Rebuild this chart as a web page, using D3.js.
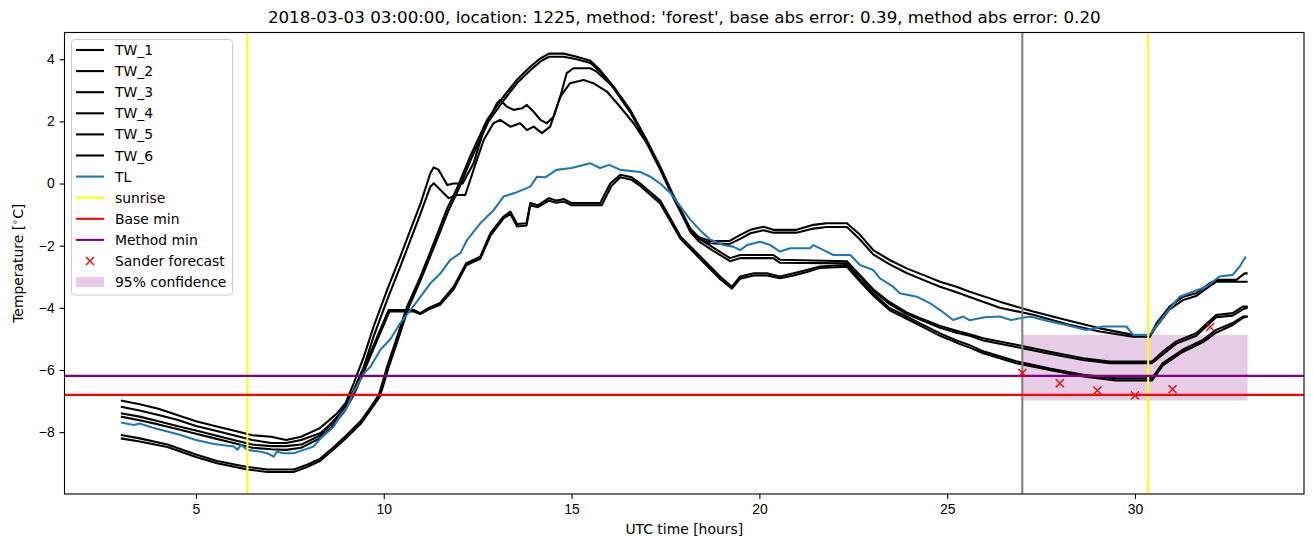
<!DOCTYPE html>
<html>
<head>
<meta charset="utf-8">
<script src="https://cdn.jsdelivr.net/npm/d3@7"></script>
<style>
  body { margin: 0; background: #fff; }
  svg { font-family: "DejaVu Sans", sans-serif; }
  .tick text { font-size: 13.9px; fill: #000; }
  .tick line { stroke: #000; stroke-width: 1.1; }
  .domain { display: none; }
</style>
</head>
<body>
<svg id="chart" width="1313" height="547"></svg>
<script>
// series: [hour, temperature]
var tw1 = [[3.0,-6.98],[3.5,-7.1],[4.0,-7.25],[4.5,-7.45],[5.0,-7.65],[5.5,-7.8],[6.0,-7.95],[6.5,-8.1],[7.0,-8.15],[7.4,-8.25],[7.8,-8.15],[8.3,-7.87],[8.76,-7.39],[8.98,-7.07],[9.2,-6.43],[9.47,-5.57],[9.73,-4.6],[10.09,-3.42],[10.44,-2.35],[10.71,-1.49],[10.98,-0.64],[11.24,0.33],[11.33,0.52],[11.46,0.44],[11.69,-0.05],[11.86,0.0],[12.1,0.0],[12.39,0.65],[12.66,1.72],[12.84,2.15],[13.01,2.58],[13.1,2.69],[13.28,2.47],[13.46,2.37],[13.68,2.42],[13.81,2.53],[13.99,2.31],[14.17,2.05],[14.34,1.94],[14.52,2.15],[14.7,2.8],[14.87,3.55],[15.05,3.71],[15.5,3.71],[15.67,3.6],[16.12,3.1],[16.56,2.35],[17.0,1.35],[17.36,0.5],[17.71,-0.42],[17.98,-1.06],[18.16,-1.49],[18.38,-1.76],[18.69,-2.0],[19.22,-2.4],[19.49,-2.3],[20.37,-2.3],[20.55,-2.45],[22.33,-2.5],[22.68,-2.95],[23.03,-3.4],[23.47,-3.82],[23.92,-4.15],[24.36,-4.37],[24.81,-4.58],[25.25,-4.74],[25.6,-4.85],[25.96,-4.98],[26.84,-5.19],[27.73,-5.41],[28.62,-5.62],[29.33,-5.73],[30.45,-5.73],[30.74,-5.41],[31.1,-5.08],[31.63,-4.82],[32.16,-4.23],[32.6,-4.17],[32.87,-3.96],[33.0,-3.96]];
var tw2 = [[3.0,-7.18],[3.5,-7.3],[4.0,-7.45],[4.5,-7.6],[5.0,-7.8],[5.5,-7.95],[6.0,-8.1],[6.5,-8.25],[7.0,-8.35],[7.4,-8.35],[7.8,-8.25],[8.32,-8.03],[8.8,-7.5],[9.0,-7.1],[9.2,-6.64],[9.47,-5.89],[9.73,-4.92],[10.09,-3.74],[10.44,-2.67],[10.71,-1.82],[10.98,-0.96],[11.24,-0.1],[11.33,0.01],[11.51,-0.21],[11.73,-0.47],[11.95,-0.37],[12.17,-0.37],[12.39,0.44],[12.66,1.4],[12.92,1.94],[13.1,2.05],[13.37,1.83],[13.63,1.94],[13.81,1.72],[13.99,1.83],[14.21,1.62],[14.43,1.83],[14.7,2.8],[14.96,3.23],[15.32,3.33],[15.58,3.23],[15.94,2.96],[16.29,2.47],[16.65,1.94],[17.0,1.3],[17.36,0.45],[17.71,-0.45],[17.98,-1.1],[18.16,-1.55],[18.38,-1.85],[18.69,-2.1],[19.22,-2.5],[19.49,-2.4],[20.37,-2.4],[20.55,-2.55],[22.33,-2.57],[22.68,-3.0],[23.03,-3.45],[23.47,-3.88],[23.92,-4.2],[24.36,-4.42],[24.81,-4.64],[25.25,-4.8],[25.6,-4.9],[25.96,-5.05],[26.84,-5.26],[27.73,-5.48],[28.62,-5.68],[29.33,-5.78],[30.45,-5.78],[30.74,-5.5],[31.1,-5.15],[31.63,-4.9],[32.16,-4.3],[32.6,-4.25],[32.87,-4.05],[33.0,-3.99]];
var tw3 = [[3.0,-7.39],[3.5,-7.5],[4.0,-7.65],[4.5,-7.8],[5.0,-7.95],[5.5,-8.1],[6.0,-8.25],[6.5,-8.4],[7.0,-8.45],[7.4,-8.45],[7.8,-8.4],[8.32,-8.1],[8.58,-7.75],[8.94,-7.25],[9.2,-6.7],[9.47,-5.95],[9.82,-4.95],[10.13,-4.07],[10.8,-4.07],[10.97,-4.17],[11.2,-4.0],[11.5,-3.84],[11.86,-3.32],[12.2,-2.56],[12.57,-2.35],[12.84,-1.6],[13.19,-1.06],[13.37,-0.9],[13.55,-1.3],[13.8,-1.28],[13.9,-0.63],[14.1,-0.7],[14.4,-0.47],[14.6,-0.55],[14.8,-0.5],[15.0,-0.63],[15.76,-0.63],[16.03,0.0],[16.3,0.28],[16.6,0.2],[16.83,0.0],[17.36,-0.55],[17.9,-1.7],[18.42,-2.34],[18.96,-3.0],[19.27,-3.32],[19.49,-2.99],[19.85,-2.89],[20.2,-2.89],[20.55,-2.99],[20.91,-2.89],[21.26,-2.78],[21.61,-2.67],[22.33,-2.62],[22.68,-3.1],[23.03,-3.53],[23.47,-4.01],[23.92,-4.28],[24.36,-4.55],[24.81,-4.82],[25.25,-5.05],[25.6,-5.2],[25.96,-5.4],[26.84,-5.72],[27.73,-5.95],[28.62,-6.15],[29.5,-6.27],[30.45,-6.27],[30.74,-5.78],[31.27,-5.35],[31.81,-5.03],[32.16,-4.71],[32.6,-4.49],[32.87,-4.28],[33.0,-4.28]];
var tw4 = [[3.0,-7.5],[3.5,-7.62],[4.0,-7.75],[4.5,-7.9],[5.0,-8.05],[5.5,-8.2],[6.0,-8.35],[6.5,-8.5],[7.0,-8.55],[7.4,-8.57],[7.8,-8.5],[8.3,-8.2],[8.6,-7.85],[8.94,-7.35],[9.2,-6.8],[9.47,-6.05],[9.82,-5.05],[10.15,-4.12],[10.8,-4.12],[10.97,-4.2],[11.2,-4.05],[11.5,-3.9],[11.86,-3.4],[12.2,-2.62],[12.57,-2.42],[12.84,-1.68],[13.19,-1.12],[13.37,-0.98],[13.55,-1.38],[13.8,-1.35],[13.9,-0.7],[14.1,-0.76],[14.4,-0.55],[14.6,-0.62],[14.8,-0.58],[15.0,-0.7],[15.8,-0.7],[16.06,-0.08],[16.3,0.2],[16.6,0.12],[16.83,-0.08],[17.36,-0.64],[17.9,-1.78],[18.42,-2.42],[18.96,-3.08],[19.27,-3.38],[19.49,-3.06],[19.85,-2.96],[20.2,-2.96],[20.55,-3.05],[20.91,-2.96],[21.26,-2.85],[21.61,-2.72],[22.33,-2.68],[22.68,-3.15],[23.03,-3.6],[23.47,-4.08],[23.92,-4.35],[24.36,-4.62],[24.81,-4.9],[25.25,-5.12],[25.6,-5.28],[25.96,-5.46],[26.84,-5.78],[27.73,-6.0],[28.62,-6.21],[29.5,-6.34],[30.45,-6.34],[30.74,-5.85],[31.27,-5.42],[31.81,-5.1],[32.16,-4.8],[32.6,-4.55],[32.87,-4.32],[33.0,-4.28]];
var tw5 = [[3.0,-8.09],[3.5,-8.2],[4.24,-8.4],[5.0,-8.72],[5.56,-8.93],[6.37,-9.12],[6.9,-9.2],[7.6,-9.2],[7.96,-9.05],[8.31,-8.85],[8.67,-8.48],[9.02,-8.08],[9.38,-7.65],[9.64,-7.22],[9.87,-6.8],[10.09,-5.89],[10.36,-4.92],[10.62,-3.96],[10.98,-2.99],[11.33,-1.92],[11.69,-0.8],[11.95,-0.15],[12.3,0.87],[12.75,2.05],[13.19,2.8],[13.54,3.33],[13.9,3.76],[14.17,4.03],[14.4,4.18],[14.79,4.18],[15.14,4.08],[15.5,3.95],[15.76,3.65],[16.12,3.12],[16.56,2.37],[17.0,1.4],[17.36,0.54],[17.71,-0.38],[17.98,-1.02],[18.16,-1.45],[18.38,-1.72],[18.69,-1.85],[19.2,-1.85],[19.49,-1.65],[19.76,-1.49],[20.11,-1.39],[20.37,-1.49],[20.99,-1.49],[21.44,-1.33],[21.79,-1.28],[22.33,-1.28],[22.68,-1.65],[23.03,-2.14],[23.47,-2.46],[23.92,-2.73],[24.36,-2.94],[24.81,-3.16],[25.25,-3.32],[25.6,-3.48],[26.4,-3.8],[27.29,-4.12],[28.17,-4.39],[29.06,-4.66],[29.95,-4.87],[30.39,-4.93],[30.57,-4.5],[30.92,-3.96],[31.28,-3.64],[31.63,-3.53],[31.99,-3.21],[32.17,-3.1],[32.7,-3.1],[32.92,-2.89],[33.0,-2.89]];
var tw6 = [[3.0,-8.2],[3.5,-8.3],[4.24,-8.48],[5.0,-8.8],[5.56,-9.0],[6.37,-9.2],[6.9,-9.28],[7.6,-9.28],[7.96,-9.12],[8.31,-8.92],[8.67,-8.55],[9.02,-8.16],[9.38,-7.74],[9.64,-7.3],[9.9,-6.85],[10.12,-5.95],[10.39,-4.98],[10.65,-4.02],[11.0,-3.05],[11.36,-1.98],[11.72,-0.88],[11.98,-0.22],[12.33,0.8],[12.78,1.98],[13.22,2.72],[13.57,3.26],[13.93,3.68],[14.2,3.95],[14.4,4.08],[14.79,4.08],[15.14,4.0],[15.5,3.88],[15.76,3.6],[16.12,3.06],[16.56,2.3],[17.0,1.33],[17.36,0.47],[17.71,-0.45],[17.98,-1.08],[18.16,-1.5],[18.38,-1.78],[18.69,-1.92],[19.2,-1.95],[19.49,-1.78],[19.76,-1.6],[20.11,-1.5],[20.37,-1.58],[20.99,-1.58],[21.44,-1.45],[21.79,-1.4],[22.33,-1.4],[22.68,-1.8],[23.03,-2.28],[23.47,-2.6],[23.92,-2.88],[24.36,-3.1],[24.81,-3.32],[25.25,-3.5],[25.6,-3.65],[26.4,-4.0],[27.29,-4.22],[28.17,-4.52],[29.06,-4.76],[29.95,-4.93],[30.39,-4.93],[30.57,-4.6],[30.92,-4.05],[31.28,-3.75],[31.63,-3.62],[31.99,-3.3],[32.17,-3.16],[33.0,-3.16]];
var tl = [[3.0,-7.69],[3.35,-7.77],[3.5,-7.72],[3.88,-7.87],[4.24,-7.98],[4.59,-8.09],[5.0,-8.25],[5.48,-8.38],[6.01,-8.46],[6.1,-8.57],[6.2,-8.41],[6.37,-8.57],[6.72,-8.63],[6.9,-8.68],[7.07,-8.79],[7.15,-8.63],[7.34,-8.68],[7.6,-8.68],[7.87,-8.57],[8.13,-8.46],[8.32,-8.2],[8.67,-7.82],[8.85,-7.45],[9.02,-7.2],[9.2,-6.7],[9.47,-6.11],[9.65,-5.89],[9.91,-5.35],[10.18,-5.0],[10.44,-4.49],[10.71,-4.07],[10.98,-3.64],[11.24,-3.21],[11.51,-2.89],[11.77,-2.46],[12.04,-2.24],[12.22,-1.81],[12.57,-1.28],[12.93,-0.85],[13.19,-0.42],[13.5,-0.3],[13.9,-0.1],[14.08,0.22],[14.3,0.2],[14.6,0.44],[15.0,0.5],[15.5,0.65],[15.76,0.5],[16.0,0.6],[16.3,0.44],[16.83,0.37],[17.1,0.22],[17.36,0.0],[17.63,-0.3],[17.9,-0.74],[18.16,-1.16],[18.42,-1.5],[18.69,-1.8],[19.04,-1.98],[19.3,-2.03],[19.49,-2.14],[19.67,-1.98],[20.02,-1.87],[20.29,-1.98],[20.55,-2.19],[20.82,-2.08],[21.35,-2.08],[21.44,-1.98],[21.79,-2.19],[21.97,-2.3],[22.42,-2.3],[22.68,-2.62],[23.03,-2.78],[23.21,-3.05],[23.56,-3.32],[23.74,-3.53],[24.19,-3.64],[24.54,-3.85],[24.81,-4.07],[25.16,-4.39],[25.43,-4.28],[25.6,-4.4],[26.0,-4.3],[26.4,-4.28],[26.7,-4.39],[27.2,-4.28],[27.73,-4.44],[28.17,-4.55],[28.7,-4.71],[29.15,-4.6],[29.77,-4.6],[29.95,-4.87],[30.39,-4.87],[30.83,-4.17],[31.19,-3.64],[31.54,-3.48],[31.9,-3.32],[32.25,-2.99],[32.6,-2.94],[32.79,-2.67],[32.95,-2.35]];

var sunriseHours = [6.37, 30.35];
var forecastStart = 27.0;
var baseMin = -6.80;
var methodMin = -6.19;
var sanderHours = [27, 28, 29, 30, 31, 32];
var sanderTemps = [-6.10, -6.43, -6.66, -6.82, -6.62, -4.62];
var confHours = [27, 33];
var confLow = -6.98;
var confHigh = -4.87;

var xTicks = [5, 10, 15, 20, 25, 30];
var yTicks = [-8, -6, -4, -2, 0, 2, 4];
var legendNames = ["TW_1","TW_2","TW_3","TW_4","TW_5","TW_6","TL","sunrise","Base min","Method min","Sander forecast","95% confidence"];
var title = "2018-03-03 03:00:00, location: 1225, method: 'forest', base abs error: 0.39, method abs error: 0.20";

var padL = 64.5, padR = 1304, padT = 32.5, padB = 494;
var svg = d3.select("#chart");

var x = d3.scaleLinear().domain([1.5, 34.5]).range([padL, padR]);
var y = d3.scaleLinear().domain([-9.99, 4.86]).range([padB, padT]);

svg.append("defs").append("clipPath").attr("id", "clip")
    .append("rect").attr("x", padL).attr("y", padT)
    .attr("width", padR - padL).attr("height", padB - padT);

var plot = svg.append("g").attr("clip-path", "url(#clip)");

// confidence band
plot.append("rect")
    .attr("x", x(confHours[0]))
    .attr("y", y(confHigh))
    .attr("width", x(confHours[1]) - x(confHours[0]))
    .attr("height", y(confLow) - y(confHigh))
    .attr("fill", "purple")
    .attr("fill-opacity", 0.2);

var line = d3.line()
    .x(function(d){ return x(d[0]); })
    .y(function(d){ return y(d[1]); });

[tw1, tw2, tw3, tw4, tw5, tw6].forEach(function(s){
    plot.append("path")
        .datum(s)
        .attr("d", line)
        .attr("fill", "none")
        .attr("stroke", "#000")
        .attr("stroke-width", 2.08)
        .attr("stroke-linejoin", "round");
});

plot.append("path")
    .datum(tl)
    .attr("d", line)
    .attr("fill", "none")
    .attr("stroke", "#1f77b4")
    .attr("stroke-width", 2.08)
    .attr("stroke-linejoin", "round");

plot.selectAll(".sunrise")
    .data(sunriseHours)
    .enter()
    .append("line")
    .attr("class", "sunrise")
    .attr("x1", function(d){ return x(d); })
    .attr("x2", function(d){ return x(d); })
    .attr("y1", padT).attr("y2", padB)
    .attr("stroke", "yellow")
    .attr("stroke-width", 2.08);

plot.append("line")
    .attr("x1", x(forecastStart)).attr("x2", x(forecastStart))
    .attr("y1", padT).attr("y2", padB)
    .attr("stroke", "gray")
    .attr("stroke-width", 2.08);

plot.append("line")
    .attr("x1", padL).attr("x2", padR)
    .attr("y1", y(baseMin)).attr("y2", y(baseMin))
    .attr("stroke", "red")
    .attr("stroke-width", 2.08);

plot.append("line")
    .attr("x1", padL).attr("x2", padR)
    .attr("y1", y(methodMin)).attr("y2", y(methodMin))
    .attr("stroke", "purple")
    .attr("stroke-width", 2.08);

// sander forecast crosses
var cross = "M-4,-4L4,4M-4,4L4,-4";
plot.selectAll(".sander")
    .data(sanderHours)
    .enter()
    .append("path")
    .attr("class", "sander")
    .attr("transform", function(d, i){
        return "translate(" + x(d) + "," + y(sanderTemps[i]) + ")";
    })
    .attr("d", cross)
    .attr("stroke", "red")
    .attr("stroke-width", 1.4)
    .attr("fill", "none");

// axes
var minus = function(d){ return String(d).replace("-", "\u2212"); };
svg.append("g")
    .attr("transform", "translate(0," + padB + ")")
    .call(d3.axisBottom(x).tickValues(xTicks).tickSize(4.9).tickPadding(4.9).tickFormat(minus));
svg.append("g")
    .attr("transform", "translate(" + padL + ",0)")
    .call(d3.axisLeft(y).tickValues(yTicks).tickSize(4.9).tickPadding(4.9).tickFormat(minus));

svg.append("rect")
    .attr("x", padL).attr("y", padT)
    .attr("width", padR - padL).attr("height", padB - padT)
    .attr("fill", "none")
    .attr("stroke", "#000")
    .attr("stroke-width", 1.1);

svg.append("text")
    .attr("x", (padL + padR) / 2).attr("y", 23)
    .attr("text-anchor", "middle")
    .attr("font-size", 16.7)
    .text(title);

svg.append("text")
    .attr("x", (padL + padR) / 2).attr("y", 534)
    .attr("text-anchor", "middle")
    .attr("font-size", 13.9)
    .text("UTC time [hours]");

var ylab = svg.append("text")
    .attr("transform", "translate(23," + ((padT + padB) / 2) + ") rotate(-90)")
    .attr("text-anchor", "middle")
    .attr("font-size", 13.9);
ylab.append("tspan").text("Temperature [");
ylab.append("tspan").attr("font-size", 9.7).attr("dy", -5).text("\u2218");
ylab.append("tspan").attr("dy", 5).text("C]");

// legend
var lg = svg.append("g");
lg.append("rect")
    .attr("x", 71.5).attr("y", 39.5)
    .attr("width", 161).attr("height", 255.5)
    .attr("rx", 3)
    .attr("fill", "#fff").attr("fill-opacity", 0.8)
    .attr("stroke", "#cccccc");

var handleColors = ["#000","#000","#000","#000","#000","#000","#1f77b4","yellow","red","purple"];
var rows = lg.selectAll(".row")
    .data(legendNames)
    .enter()
    .append("g")
    .attr("transform", function(d, i){ return "translate(0," + (50 + i * 21.1) + ")"; });

rows.each(function(d, i){
    var g = d3.select(this);
    if (i < 10) {
        g.append("line")
            .attr("x1", 76).attr("x2", 104)
            .attr("stroke", handleColors[i]).attr("stroke-width", 2.08);
    } else if (i == 10) {
        g.append("path").attr("d", cross)
            .attr("transform", "translate(90,0)")
            .attr("stroke", "red").attr("stroke-width", 1.4);
    } else {
        g.append("rect")
            .attr("x", 76).attr("y", -5).attr("width", 28).attr("height", 10)
            .attr("fill", "purple").attr("fill-opacity", 0.2);
    }
    g.append("text")
        .attr("x", 115).attr("y", 5)
        .attr("font-size", 13.9)
        .text(d);
});
</script>
</body>
</html>
